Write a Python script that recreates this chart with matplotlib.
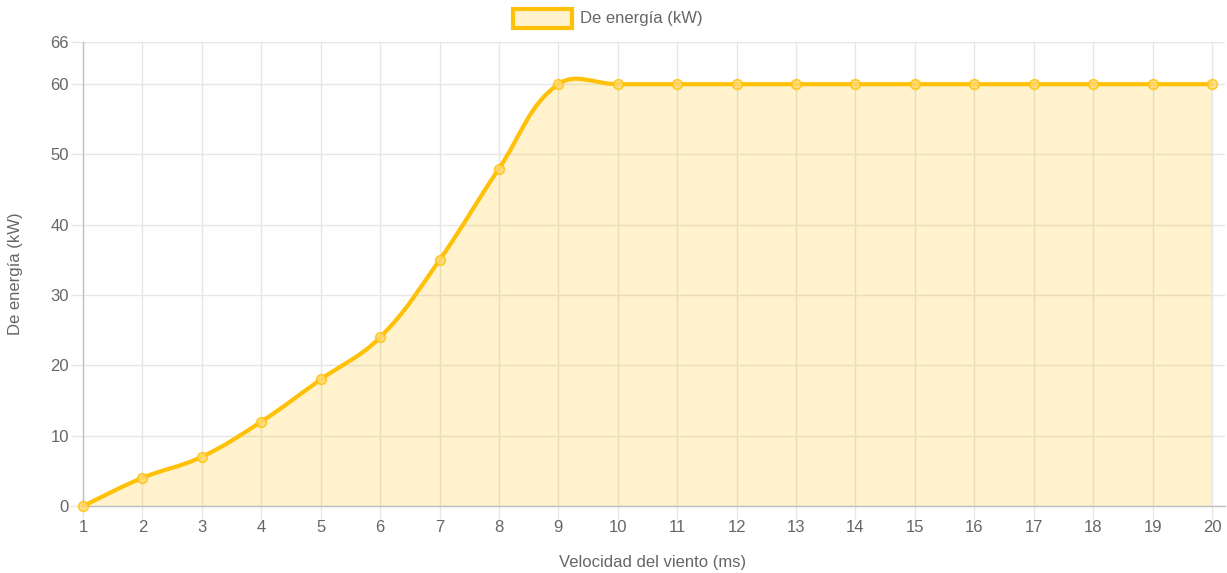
import numpy as np
import matplotlib
matplotlib.use("Agg")
import matplotlib.pyplot as plt
from matplotlib.path import Path
from matplotlib.patches import PathPatch, Rectangle

speeds = list(range(1, 21))
power = [0, 4, 7, 12, 18, 24, 35, 48, 60, 60, 60, 60, 60, 60, 60, 60, 60, 60, 60, 60]
y_ticks = [0, 10, 20, 30, 40, 50, 60, 66]
series_label = "De energía (kW)"
x_title = "Velocidad del viento (ms)"
y_title = "De energía (kW)"

LINE = "#FFC107"
FILL = (1.0, 193/255, 7/255, 0.2)
TXT = "#666666"
GRID = "#e6e6e6"
AXIS = "#bfbfbf"
FS = 12

W, H = 1227, 573
fig = plt.figure(figsize=(W/100, H/100), dpi=100)
L, R, T, B = 83, 1225, 42, 506
ax = fig.add_axes([L/W, 1-B/H, (R-L)/W, (B-T)/H])
xmax = 20 + (R - 1212) / ((1212 - 83) / 19)
ax.set_xlim(1, xmax)
ax.set_ylim(0, 66)

# pixel scale for Chart.js-like spline control points
sx = (R - L) / (xmax - 1)
sy = (B - T) / 66.0
xs = np.array(speeds, float)
ys = np.array(power, float)
n = len(xs)
tension = 0.4
cp_prev = [None] * n
cp_next = [None] * n
for i in range(n):
    p1 = np.array([xs[i], ys[i]])
    p0 = np.array([xs[i-1], ys[i-1]]) if i > 0 else p1
    p2 = np.array([xs[i+1], ys[i+1]]) if i < n-1 else p1
    d01 = np.hypot((p1[0]-p0[0])*sx, (p1[1]-p0[1])*sy)
    d12 = np.hypot((p2[0]-p1[0])*sx, (p2[1]-p1[1])*sy)
    tot = d01 + d12
    s01 = d01/tot if tot else 0
    s12 = d12/tot if tot else 0
    cp_prev[i] = p1 - tension*s01*(p2-p0)
    cp_next[i] = p1 + tension*s12*(p2-p0)

verts = [(xs[0], ys[0])]
codes = [Path.MOVETO]
for i in range(n-1):
    verts += [tuple(cp_next[i]), tuple(cp_prev[i+1]), (xs[i+1], ys[i+1])]
    codes += [Path.CURVE4]*3
line_path = Path(verts, codes)

fverts = verts + [(xs[-1], 0), (xs[0], 0), (xs[0], ys[0])]
fcodes = codes + [Path.LINETO, Path.LINETO, Path.CLOSEPOLY]
ax.add_patch(PathPatch(Path(fverts, fcodes), facecolor=FILL, edgecolor='none', zorder=2))
ax.add_patch(PathPatch(line_path, facecolor='none', edgecolor=LINE, lw=3, zorder=3,
                       capstyle='round', joinstyle='round', clip_on=False))
ax.plot(xs, ys, 'o', ms=7, mfc=(1.0, 0.85, 0.45, 1), mec=LINE, mew=1.2, zorder=4,
        alpha=0.8, clip_on=False)

ax.set_xticks(speeds)
ax.set_xticklabels([str(s) for s in speeds])
ax.set_yticks(y_ticks)
ax.grid(True, color=GRID, lw=1, zorder=0)
ax.set_axisbelow(True)
for side in ['top', 'right']:
    ax.spines[side].set_visible(False)
for side in ['left', 'bottom']:
    ax.spines[side].set_color(AXIS)
    ax.spines[side].set_linewidth(1)
ax.tick_params(axis='both', color=GRID, labelcolor=TXT, labelsize=FS, length=9, width=1)
ax.tick_params(axis='x', pad=1)
ax.tick_params(axis='y', pad=1)
for lab in ax.get_xticklabels() + ax.get_yticklabels():
    lab.set_family('Liberation Sans')

fig.text(653/W, 1-562/H, x_title, ha='center', va='center', color=TXT, fontsize=FS,
         family='Liberation Sans')
fig.text(16/W, 1-274/H, y_title, ha='center', va='center', rotation=90, color=TXT,
         fontsize=FS, family='Liberation Sans')

# legend
fig.patches.append(Rectangle((513/W, 1-28/H), 59/W, 19/H, transform=fig.transFigure,
                             facecolor=FILL, edgecolor=LINE, lw=3, figure=fig))
fig.text(580/W, 1-18/H, series_label, ha='left', va='center', color=TXT, fontsize=FS,
         family='Liberation Sans')

fig.savefig("out.png", dpi=100)
